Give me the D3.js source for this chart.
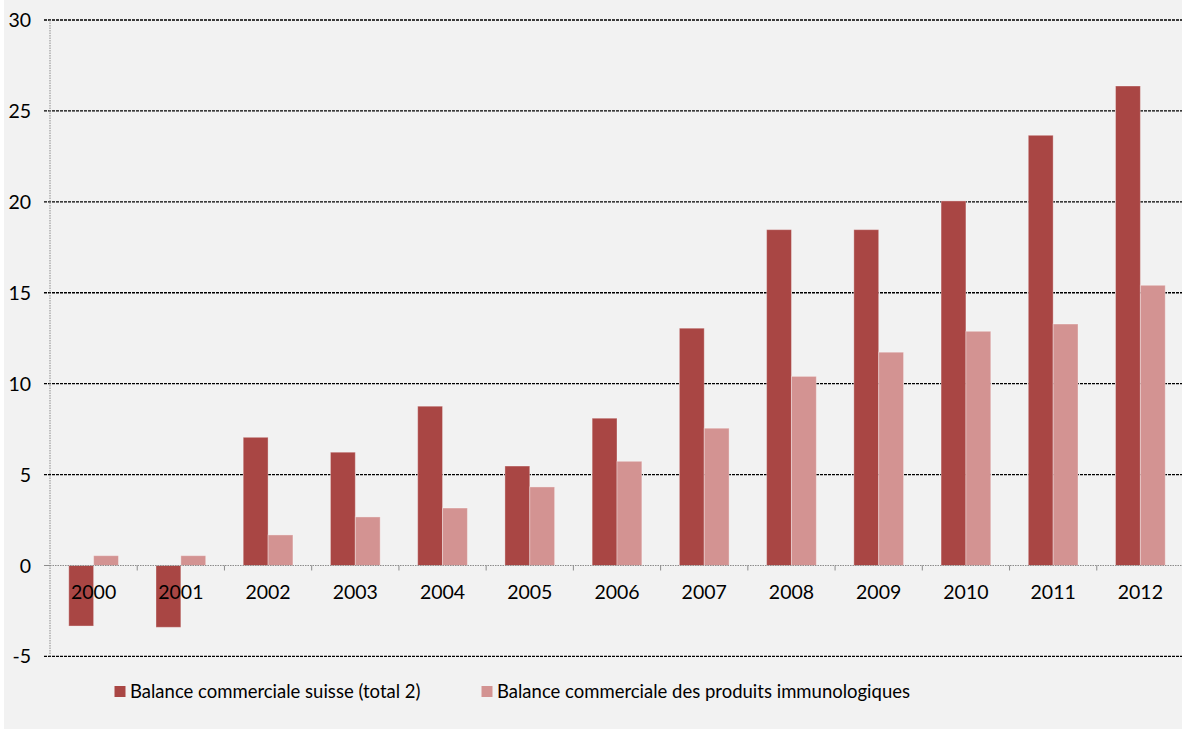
<!DOCTYPE html>
<html>
<head>
<meta charset="utf-8">
<script src="https://cdn.jsdelivr.net/npm/d3@7"></script>
<style>
  html, body { margin: 0; padding: 0; background: #ffffff; }
  svg { display: block; }
  text { font-family: Lato, "Open Sans", sans-serif; fill: #000; }
</style>
</head>
<body>
<svg id="chart" width="1182" height="729"></svg>
<script>
// Trade balance, billions CHF
const years = ["2000","2001","2002","2003","2004","2005","2006","2007","2008","2009","2010","2011","2012"];
const totalBalance = [-3.33, -3.40, 7.05, 6.23, 8.76, 5.47, 8.10, 13.05, 18.47, 18.47, 20.05, 23.66, 26.37];
const immunoBalance = [0.54, 0.54, 1.68, 2.67, 3.16, 4.32, 5.73, 7.55, 10.40, 11.73, 12.88, 13.28, 15.41];
const seriesNames = ["Balance commerciale suisse (total 2)", "Balance commerciale des produits immunologiques"];
const seriesColors = ["#a94644", "#d39392"];
const yTicks = [-5, 0, 5, 10, 15, 20, 25, 30];

const svg = d3.select("#chart");
const W = 1182, H = 729;

// chart area background
svg.append("rect").attr("x", 4).attr("y", 0).attr("width", W - 4).attr("height", H).attr("fill", "#f2f2f2");

const plot = { left: 50, right: 1184, top: 20, bottom: 656.4 };

const x = d3.scaleBand().domain(years).range([plot.left, plot.right]).paddingInner(0).paddingOuter(0);
const groupW = x.bandwidth() * 0.57;
const xs = d3.scaleBand().domain([0, 1]).range([0, groupW]).padding(0);
const y = d3.scaleLinear().domain([-5, 30]).range([plot.bottom, plot.top]);

// horizontal gridlines (non-zero)
svg.append("g").selectAll("line")
  .data(yTicks.filter(t => t !== 0))
  .join("line")
  .attr("x1", plot.left - 6).attr("x2", W)
  .attr("y1", d => y(d)).attr("y2", d => y(d))
  .attr("stroke", "#000").attr("stroke-width", 1.3)
  .attr("stroke-dasharray", "3,1");

// vertical value axis
svg.append("line")
  .attr("x1", plot.left).attr("x2", plot.left)
  .attr("y1", plot.top).attr("y2", plot.bottom)
  .attr("stroke", "#8c8c8c").attr("stroke-width", 1)
  .attr("stroke-dasharray", "1.5,1");

// small tick on the zero row
svg.append("line")
  .attr("x1", plot.left - 6).attr("x2", plot.left)
  .attr("y1", y(0)).attr("y2", y(0))
  .attr("stroke", "#8c8c8c").attr("stroke-width", 1);

// y tick labels
svg.append("g").selectAll("text")
  .data(yTicks)
  .join("text")
  .attr("x", 31).attr("y", d => y(d))
  .attr("dy", "0.36em")
  .attr("text-anchor", "end")
  .attr("font-size", 19.5)
  .text(d => d);

// bars
const rows = years.map((yr, i) => ({ year: yr, values: [totalBalance[i], immunoBalance[i]] }));
const groups = svg.append("g").selectAll("g")
  .data(rows)
  .join("g")
  .attr("transform", d => `translate(${x(d.year) + (x.bandwidth() - groupW) / 2},0)`);

groups.selectAll("rect")
  .data(d => d.values.map((v, k) => ({ v, k })))
  .join("rect")
  .attr("x", d => xs(d.k))
  .attr("width", xs.bandwidth())
  .attr("y", d => y(Math.max(0, d.v)))
  .attr("height", d => Math.abs(y(d.v) - y(0)))
  .attr("fill", d => seriesColors[d.k])
  .attr("stroke", "rgba(255,255,255,0.35)")
  .attr("stroke-width", 1);

// category axis on zero line
svg.append("line")
  .attr("x1", plot.left).attr("x2", W)
  .attr("y1", y(0)).attr("y2", y(0))
  .attr("stroke", "#8c8c8c").attr("stroke-width", 1.2)
  .attr("stroke-dasharray", "1.5,1");

svg.append("g").selectAll("line")
  .data(years.slice(1))
  .join("line")
  .attr("x1", d => x(d)).attr("x2", d => x(d))
  .attr("y1", y(0)).attr("y2", y(0) + 5)
  .attr("stroke", "#8c8c8c").attr("stroke-width", 1);

// category labels
svg.append("g").selectAll("text")
  .data(years)
  .join("text")
  .attr("x", d => x(d) + x.bandwidth() / 2)
  .attr("y", 599)
  .attr("text-anchor", "middle")
  .attr("font-size", 19.5)
  .text(d => d);

// legend
const legendX = [114.5, 481.5];
const legend = svg.append("g").selectAll("g")
  .data(seriesNames)
  .join("g")
  .attr("transform", (d, i) => `translate(${legendX[i]},686)`);
legend.append("rect")
  .attr("width", 11).attr("height", 11)
  .attr("fill", (d, i) => seriesColors[i]);
legend.append("text")
  .attr("x", 15.5).attr("y", 5.5).attr("dy", "0.36em")
  .attr("font-size", 18.5)
  .text(d => d);
</script>
</body>
</html>
